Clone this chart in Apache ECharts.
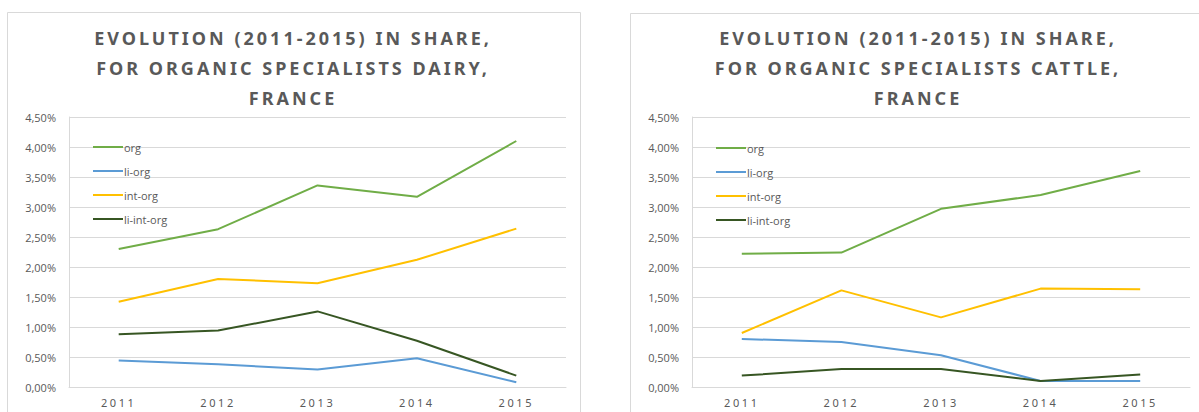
<!DOCTYPE html>
<html>
<head>
<meta charset="utf-8">
<script src="https://cdn.jsdelivr.net/npm/echarts@6/dist/echarts.min.js"></script>
<style>
  body { margin: 0; background: #fff; }
  #chart { width: 1199px; height: 412px; }
  /* letter spacing for titles and year labels (svg renderer) */
  #chart text[style*="Noto Sans"] { letter-spacing: 2.6px; }
  #chart text[style*="Noto Sans"][style*="bold"] { letter-spacing: 3px; }
</style>
</head>
<body>
<div id="chart"></div>
<script>
  let years = ['2011', '2012', '2013', '2014', '2015']
  let seriesNames = ['org', 'li-org', 'int-org', 'li-int-org']
  let seriesColors = ['#70ad47', '#5b9bd5', '#ffc000', '#375623']
  let titles = [
    'EVOLUTION (2011-2015) IN SHARE,\nFOR ORGANIC SPECIALISTS DAIRY,\nFRANCE',
    'EVOLUTION (2011-2015) IN SHARE,\nFOR ORGANIC SPECIALISTS CATTLE,\nFRANCE'
  ]
  // values in %
  let dairyOrg = [2.30, 2.63, 3.36, 3.17, 4.10]
  let dairyLiOrg = [0.44, 0.38, 0.29, 0.48, 0.08]
  let dairyIntOrg = [1.42, 1.80, 1.73, 2.12, 2.64]
  let dairyLiIntOrg = [0.88, 0.94, 1.26, 0.77, 0.19]
  let cattleOrg = [2.22, 2.24, 2.97, 3.20, 3.60]
  let cattleLiOrg = [0.80, 0.75, 0.53, 0.10, 0.10]
  let cattleIntOrg = [0.90, 1.61, 1.16, 1.64, 1.63]
  let cattleLiIntOrg = [0.19, 0.30, 0.30, 0.10, 0.21]

  let chartData = [
    [dairyOrg, dairyLiOrg, dairyIntOrg, dairyLiIntOrg],
    [cattleOrg, cattleLiOrg, cattleIntOrg, cattleLiIntOrg]
  ]

  let chart = echarts.init(document.getElementById('chart'), null, {renderer: 'svg'})

  let grids = [
    {left: 69, right: 633, top: 117, bottom: 25},
    {left: 692, right: 9, top: 117, bottom: 25}
  ]
  let titleX = [293, 918]
  let legendPos = [{left: 88, top: 135}, {left: 711, top: 136}]

  let xAxes = [], yAxes = [], series = [], titleList = [], legends = []
  grids.forEach((g, i) => {
    titleList.push({
      text: titles[i],
      left: titleX[i],
      top: 23,
      textAlign: 'center',
      padding: 0,
      textStyle: {
        fontFamily: 'Noto Sans',
        fontWeight: 'bold',
        fontSize: 18,
        lineHeight: 30,
        color: '#595959'
      }
    })
    xAxes.push({
      type: 'category',
      gridIndex: i,
      data: years,
      boundaryGap: true,
      axisTick: {show: false},
      axisLine: {lineStyle: {color: '#d9d9d9', width: 1}},
      axisLabel: {fontFamily: 'Noto Sans', fontSize: 11, color: '#595959', margin: 10}
    })
    yAxes.push({
      type: 'value',
      gridIndex: i,
      min: 0,
      max: 4.5,
      interval: 0.5,
      axisLine: {show: true, lineStyle: {color: '#d9d9d9', width: 1}},
      axisTick: {show: false},
      splitLine: {lineStyle: {color: '#d9d9d9', width: 1}},
      axisLabel: {
        fontFamily: 'Open Sans', fontSize: 11, color: '#595959', margin: 13,
        formatter: v => v.toFixed(2).replace('.', ',') + '%'
      }
    })
    legends.push({
      orient: 'vertical',
      left: legendPos[i].left,
      top: legendPos[i].top,
      icon: 'rect',
      itemWidth: 30,
      itemHeight: 2,
      itemGap: 10,
      selectedMode: false,
      data: seriesNames,
      textStyle: {fontFamily: 'Open Sans', fontSize: 11, color: '#595959', lineHeight: 14, padding: [0, 0, 0, -4]}
    })
    chartData[i].forEach((vals, k) => {
      series.push({
        name: seriesNames[k],
        type: 'line',
        xAxisIndex: i,
        yAxisIndex: i,
        data: vals,
        showSymbol: false,
        symbol: 'none',
        color: seriesColors[k],
        lineStyle: {width: 2, color: seriesColors[k]},
        animation: false
      })
    })
  })

  let option = {
    backgroundColor: '#fff',
    animation: false,
    graphic: [
      {type: 'rect', silent: true, z: -10, shape: {x: 7.5, y: 12.5, width: 573, height: 440},
        style: {fill: '#fff', stroke: '#d9d9d9', lineWidth: 1}},
      {type: 'rect', silent: true, z: -10, shape: {x: 630.5, y: 13.5, width: 600, height: 440},
        style: {fill: '#fff', stroke: '#d9d9d9', lineWidth: 1}}
    ],
    title: titleList,
    legend: legends,
    grid: grids,
    xAxis: xAxes,
    yAxis: yAxes,
    series: series
  }
  chart.setOption(option)
</script>
</body>
</html>
